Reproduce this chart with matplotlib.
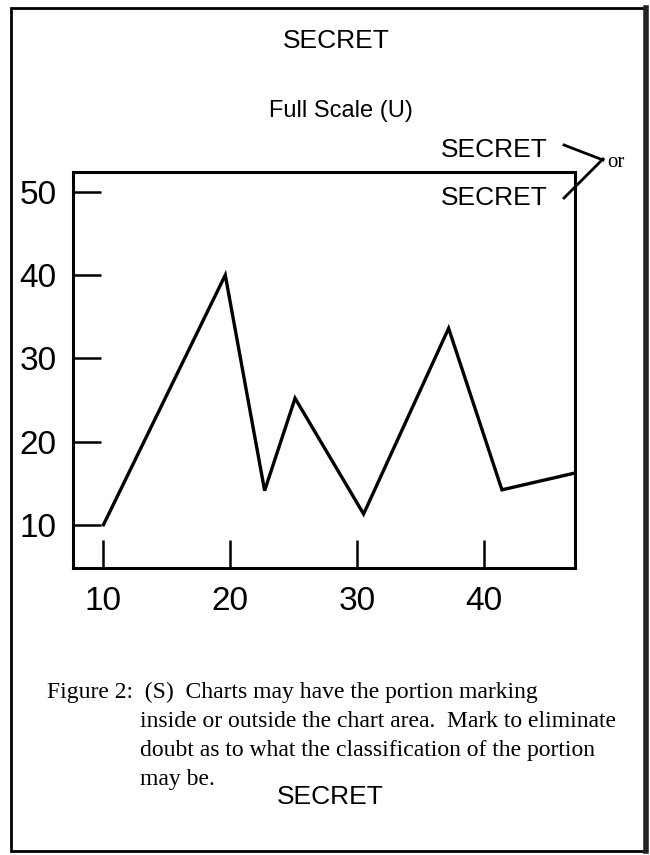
import matplotlib
matplotlib.use('Agg')
import matplotlib.pyplot as plt
from matplotlib.lines import Line2D
from matplotlib.patches import Rectangle

# data
x_vals = [10, 19.6, 22.7, 25.1, 30.5, 37.2, 41.4, 47.1]
y_vals = [10, 40, 14.1, 25.2, 11.3, 33.6, 14.2, 16.2]
x_ticks = [10, 20, 30, 40]
y_ticks = [10, 20, 30, 40, 50]

caption = ["Figure 2:  (S)  Charts may have the portion marking",
           "inside or outside the chart area.  Mark to eliminate",
           "doubt as to what the classification of the portion",
           "may be."]
marking = "SECRET"
title = "Full Scale (U)"

W, H = 650, 855
SANS = 'Liberation Sans'
SERIF = 'Liberation Serif'


def fx(px):
    return px / W


def fy(py):
    return 1 - py / H


####################################################
def plotter():
    fig = plt.figure(figsize=(W / 100, H / 100), dpi=100)

    # page frame
    fig.add_artist(Rectangle((fx(11), fy(851)), fx(645) - fx(11), fy(8) - fy(851),
                             transform=fig.transFigure, fill=False, lw=2, ec='black'))
    fig.add_artist(Line2D([fx(646), fx(646)], [fy(8), fy(851)],
                          transform=fig.transFigure, lw=4, color='#222222'))

    ax = fig.add_axes([fx(73), fy(567.5), fx(574.5) - fx(73), fy(172.5) - fy(567.5)])
    ax.plot(x_vals, y_vals, color='black', lw=2.4, solid_joinstyle='miter')
    ax.set_xlim(7.6, 47.12)
    ax.set_ylim(4.87, 52.32)

    for s in ax.spines.values():
        s.set_linewidth(2.2)
    ax.set_xticks(x_ticks)
    ax.set_yticks(y_ticks)
    ax.tick_params(axis='both', direction='in', length=20.5, width=1.8)
    ax.tick_params(axis='x', pad=13)
    ax.tick_params(axis='y', pad=12)
    for lab in ax.get_xticklabels():
        lab.set_fontfamily(SANS)
        lab.set_fontsize(24)
    for lab in ax.get_yticklabels():
        lab.set_fontfamily(SANS)
        lab.set_fontsize(24)

    # headings and portion markings
    fig.text(fx(336), fy(48), marking, family=SANS, fontsize=19, ha='center', va='baseline')
    fig.text(fx(341), fy(117), title, family=SANS, fontsize=17, ha='center', va='baseline')
    fig.text(fx(548), fy(156.5), marking, family=SANS, fontsize=19, ha='right', va='baseline')
    fig.text(fx(548), fy(205), marking, family=SANS, fontsize=19, ha='right', va='baseline')
    fig.text(fx(607), fy(167), "or", family=SERIF, fontsize=15, ha='left', va='baseline')
    fig.add_artist(Line2D([fx(564), fx(603)], [fy(145), fy(160)],
                          transform=fig.transFigure, lw=2, color='black'))
    fig.add_artist(Line2D([fx(564), fx(603)], [fy(198), fy(159)],
                          transform=fig.transFigure, lw=2, color='black'))

    # caption
    fig.text(fx(47), fy(698), caption[0], family=SERIF, fontsize=17, va='baseline')
    for i, line in enumerate(caption[1:]):
        fig.text(fx(140), fy(727 + 29 * i), line, family=SERIF, fontsize=17, va='baseline')
    fig.text(fx(330), fy(804), marking, family=SANS, fontsize=19, ha='center', va='baseline')

    fig.savefig('out.png', dpi=100)


####################################################
if __name__ == "__main__":
    plotter()
